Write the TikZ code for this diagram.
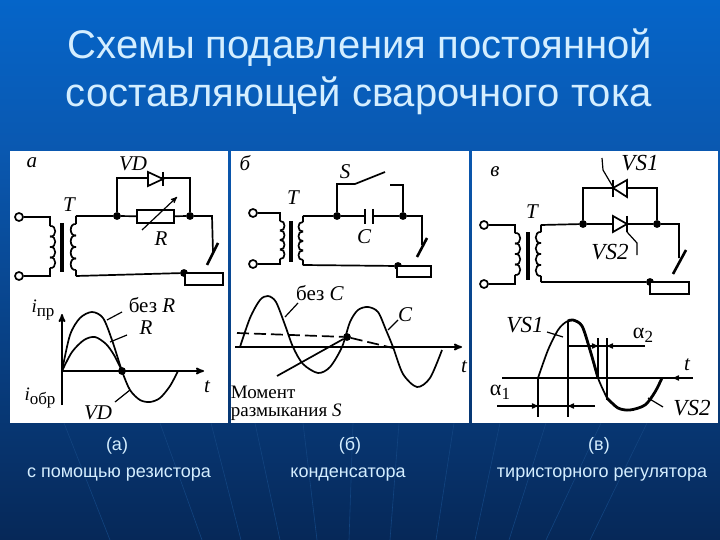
\documentclass[tikz,border=0pt]{standalone}
\usepackage{fontspec}
\setmainfont{Liberation Sans}
\newfontfamily\seriffont{Liberation Serif}
\usetikzlibrary{arrows}

\definecolor{skytop}{HTML}{0565C9}
\definecolor{skymid}{HTML}{0A58B0}
\definecolor{skylow}{HTML}{062858}
\definecolor{raycol}{HTML}{124480}
\definecolor{headcol}{HTML}{D4EEFF}

% one winding of four turns: x, top y, turn height, bulge
\newcommand{\coil}[4]{\foreach \k in {0,1,2,3}{\draw (#1,#2+\k*#3) .. controls +(#4,-1) and +(#4,1) .. (#1,#2+\k*#3+#3);}}
\newcommand{\sublab}[1]{\raisebox{-4pt}{\fontsize{17}{17}\selectfont #1}}

\begin{document}
\begin{tikzpicture}[x=1pt,y=-1pt,>=stealth',line width=1.7pt]
  \tikzstyle{term}=[circle,draw,fill=white,minimum size=8pt,inner sep=0pt]
  \tikzstyle{junc}=[circle,draw,fill=black,minimum size=6pt,inner sep=0pt]
  \tikzstyle{unit}=[rectangle,draw,fill=white,inner sep=0pt]
  \tikzstyle{lab}=[inner sep=0pt,font=\seriffont\itshape\fontsize{21}{21}\selectfont]
  \tikzstyle{labvs}=[inner sep=0pt,font=\seriffont\itshape\fontsize{23}{23}\selectfont]
  \tikzstyle{note}=[inner sep=0pt,font=\seriffont\fontsize{19}{19}\selectfont]
  \tikzstyle{thin}=[line width=1.2pt]
  \tikzstyle{head}=[text=headcol,inner sep=0pt,font=\fontsize{40}{40}\selectfont]
  \tikzstyle{capt}=[text=headcol,inner sep=0pt,font=\fontsize{18}{18}\selectfont]

  \useasboundingbox (0,0) rectangle (720,540);
  \shade[top color=skytop,bottom color=skymid,draw=none] (0,0) rectangle (720,150);
  \shade[top color=skymid,bottom color=skylow,draw=none] (0,150) rectangle (720,540);
  \foreach \xa/\xb in {64/110,160/202,211/241,255/280,303/317,353/349,399/390,454/436,500/475,546/509,601/546,647/590}
    \draw[raycol,line width=0.6pt] (\xa,423) -- (\xb,540);

  \fill[white] (10,151) rectangle (228,423);
  \fill[white] (231,151) rectangle (469,423);
  \fill[white] (472,151) rectangle (718,423);

  \node[head,anchor=base west] (title1) at (67,59) {Схемы подавления постоянной};
  \node[head,anchor=base west] (title2) at (65,107) {составляющей сварочного тока};

  \node[capt] (capA)  at (117,446) {(а)};
  \node[capt] (capA2) at (119,475) {с помощью резистора};
  \node[capt] (capB)  at (350,446) {(б)};
  \node[capt] (capB2) at (348,475) {конденсатора};
  \node[capt] (capC)  at (599,446) {(в)};
  \node[capt] (capC2) at (602,475) {тиристорного регулятора};

  % panel a, circuit
  \node[term] (a1) at (19,217) {};
  \node[term] (a2) at (19,276) {};
  \node[junc] (a3) at (117,216) {};
  \node[junc] (a4) at (190,216) {};
  \node[junc] (a5) at (184,273) {};
  \node[unit,minimum width=37pt,minimum height=13pt] (aR) at (155.5,216.5) {};
  \node[unit,minimum width=38pt,minimum height=12pt] (aload) at (204,279) {};
  \coordinate (a6) at (50,217);
  \coordinate (a7) at (50,276);
  \coordinate (a8) at (76,216);
  \coordinate (a9) at (76,276);
  \coordinate (a10) at (117,178);
  \coordinate (a11) at (190,178);
  \coordinate (a12) at (212,216);
  \coordinate (a13) at (213,252);
  \coordinate (a14) at (142,230);
  \coordinate (a15) at (177,197);
  \coil{50}{226}{10.5}{7}
  \coil{76}{224}{11.5}{-7}
  \draw[line width=3.2pt] (62,223) -- (62,272);
  \path[draw] (a1) -- (a6) -- (50,226)
              (a2) -- (a7) -- (50,268)
              (a8) -- (76,224)
              (a9) -- (76,270)
              (a8) -- (a3)
              (a3) -- (aR)
              (aR) -- (a4)
              (a3) -- (a10) -- (a11) -- (a4)
              (a4) -- (a12) -- (a13)
              (a9) -- (a5);
  \draw[->,thin] (a14) -- (a15);
  \draw[fill=white] (148,172) -- (163,179) -- (148,186) -- cycle;
  \draw (163,172) -- (163,186);
  \draw[line width=2.6pt] (218,243) -- (207,265);
  \node[lab] (aname) at (32,163) {а};
  \node[lab] (aVD)   at (133,164) {VD};
  \node[lab] (aT)    at (69,205) {T};
  \node[lab] (aRl)   at (161,239) {R};

  % panel a, curves
  \coordinate (a20) at (62,405);
  \coordinate (a21) at (62,314);
  \coordinate (a22) at (62,371);
  \coordinate (a23) at (204,371);
  \node[junc] (a24) at (122,371) {};
  \draw[->] (a20) -- (a21);
  \draw[->] (a22) -- (a23);
  \draw plot[smooth] coordinates {(62,371) (70,335) (80,318) (92,312) (103,318) (112,340) (122,371) (130,390) (140,400) (150,402) (160,398) (170,386) (178,371)};
  \draw plot[smooth] coordinates {(62,371) (72,352) (84,340) (95,337) (106,344) (114,355) (122,371)};
  \node[note] (aip) at (43,310) {\textit{i}\sublab{пр}};
  \node[note] (aio) at (40,398) {\textit{i}\sublab{обр}};
  \node[note,font=\seriffont\fontsize{21}{21}\selectfont] (anoR) at (152,305) {без \textit{R}};
  \node[lab]  (aRc)  at (146,328) {R};
  \node[lab]  (at)   at (207,387) {t};
  \node[lab]  (aVDc) at (98,413) {VD};
  \coordinate (a25) at (107,320);
  \coordinate (a26) at (122,312);
  \coordinate (a27) at (110,342);
  \coordinate (a28) at (127,335);
  \coordinate (a29) at (115,402);
  \coordinate (a30) at (130,390);
  \path[draw,thin] (a25) -- (a26) (a27) -- (a28) (a29) -- (a30);

  % panel b, circuit
  \node[term] (b1) at (253,213) {};
  \node[term] (b2) at (253,264) {};
  \node[junc] (b3) at (337,216) {};
  \node[junc] (b4) at (403,216) {};
  \node[junc] (b5) at (398,266) {};
  \node[unit,minimum width=34pt,minimum height=11pt] (bload) at (414,271.5) {};
  \coordinate (b6) at (280,213);
  \coordinate (b7) at (280,264);
  \coordinate (b8) at (303,216);
  \coordinate (b9) at (303,265);
  \coordinate (b10) at (337,184);
  \coordinate (b11) at (355,184);
  \coordinate (b12) at (385,172);
  \coordinate (b13) at (390,185);
  \coordinate (b14) at (403,185);
  \coordinate (b15) at (365,216);
  \coordinate (b16) at (373,216);
  \coordinate (b17) at (422,216);
  \coordinate (b18) at (422,245);
  \coil{280}{221}{9.5}{6}
  \coil{303}{222}{9.5}{-6}
  \draw[line width=3.2pt] (291,221) -- (291,262);
  \path[draw] (b1) -- (b6) -- (280,221)
              (b2) -- (b7) -- (280,259)
              (b8) -- (303,222)
              (b9) -- (303,260)
              (b8) -- (b3)
              (b3) -- (b15)
              (b16) -- (b4)
              (b3) -- (b10) -- (b11) -- (b12)
              (b13) -- (b14) -- (b4)
              (b4) -- (b17) -- (b18)
              (b9) -- (b5);
  \draw (365,209) -- (365,224);
  \draw (373,209) -- (373,224);
  \draw[line width=2.6pt] (427,238) -- (417,257);
  \node[lab] (bname) at (245,163) {б};
  \node[lab] (bS)    at (345,172) {S};
  \node[lab] (bT)    at (293,198) {T};
  \node[lab] (bCl)   at (364,237) {C};

  % panel b, curves
  \coordinate (b20) at (235,347);
  \coordinate (b21) at (462,347);
  \coordinate (b22) at (237,333);
  \node[junc] (b23) at (347,337) {};
  \coordinate (b24) at (393,348);
  \coordinate (b25) at (277,376);
  \draw[->] (b20) -- (b21);
  \draw[dashed,dash pattern=on 12pt off 5pt] (b22) -- (b23) -- (b24);
  \draw (b25) -- (b23);
  \draw plot[smooth] coordinates {(240,347) (250,318) (260,300) (268,296) (276,302) (285,325) (293,347) (303,364) (318,373) (330,367) (342,347) (350,322) (358,310) (368,307) (378,312) (386,330) (393,347) (403,374) (417,387) (430,378) (442,350)};
  \node[note,font=\seriffont\fontsize{21}{21}\selectfont] (bnoC) at (320,293) {без \textit{C}};
  \node[lab]  (bCc)  at (405,315) {C};
  \node[lab]  (bt)   at (464,367) {t};
  \node[note,anchor=west] (bmom) at (230,392) {Момент};
  \node[note,anchor=west] (bcut) at (230,412) {размыкания \textit{S}};
  \coordinate (b26) at (285,317);
  \coordinate (b27) at (298,303);
  \coordinate (b28) at (388,330);
  \coordinate (b29) at (398,320);
  \path[draw,thin] (b26) -- (b27) (b28) -- (b29);

  % panel c, circuit
  \node[term] (c1) at (484,225) {};
  \node[term] (c2) at (484,284) {};
  \node[junc] (c3) at (583,224) {};
  \node[junc] (c4) at (657,224) {};
  \node[junc] (c5) at (650,282) {};
  \node[unit,minimum width=39pt,minimum height=12pt] (cload) at (669.5,288) {};
  \coordinate (c6) at (515,225);
  \coordinate (c7) at (515,284);
  \coordinate (c8) at (541,225);
  \coordinate (c9) at (541,282);
  \coordinate (c10) at (583,188);
  \coordinate (c11) at (657,188);
  \coordinate (c12) at (679,224);
  \coordinate (c13) at (679,258);
  \coil{515}{233}{10.5}{7}
  \coil{541}{232}{11}{-7}
  \draw[line width=3.2pt] (528,232) -- (528,280);
  \path[draw] (c1) -- (c6) -- (515,233)
              (c2) -- (c7) -- (515,275)
              (c8) -- (541,232)
              (c9) -- (541,276)
              (c8) -- (c3)
              (c3) -- (c4)
              (c3) -- (c10) -- (c11) -- (c4)
              (c4) -- (c12) -- (c13)
              (c9) -- (c5);
  \draw[fill=white] (627,180) -- (613,188) -- (627,197) -- cycle;
  \draw (613,180) -- (613,197);
  \draw[thin] (613,187) -- (603,170) -- (602,158);
  \draw[fill=white] (613,216) -- (627,224) -- (613,232) -- cycle;
  \draw (627,216) -- (627,232);
  \draw[thin] (627,232) -- (637,243) -- (637,255);
  \draw[line width=2.6pt] (686,250) -- (673,274);
  \node[lab]   (cname) at (495,172) {в};
  \node[lab]   (cT)    at (532,212) {T};
  \node[labvs] (cVSa)  at (640,163) {VS1};
  \node[labvs] (cVSb)  at (610,252) {VS2};

  % panel c, curves
  \coordinate (c20) at (502,378);
  \coordinate (c21) at (693,378);
  \draw (c20) -- (c21);
  \draw[<-,thin] (673,378) -- (693,378);
  \draw plot[smooth] coordinates {(538,378) (548,350) (558,330) (566,322) (573,320) (582,326) (590,350) (598,378) (607,398)};
  \draw[line width=2.8pt] plot[smooth] coordinates {(568,321) (573,320) (582,326) (590,350) (598,378)};
  \draw[line width=2.8pt] plot[smooth] coordinates {(607,398) (618,408) (630,410) (645,405) (655,392) (662,378)};
  \draw[line width=2.8pt] (568,322) -- (568,378);
  \draw[line width=2.8pt] (607,378) -- (607,400);
  \draw[thin] (568,378) -- (568,417);
  \draw[thin] (538,378) -- (538,417);
  \draw[thin] (598,338) -- (598,378);
  \draw[thin] (607,338) -- (607,378);
  \draw[thin] (568,346) -- (645,346);
  \draw[thin] (497,406) -- (595,406);
  \draw[->,thin] (645,346) -- (607,346);
  \draw[->,thin] (568,346) -- (598,346);
  \draw[->,thin] (497,406) -- (538,406);
  \draw[->,thin] (595,406) -- (568,406);
  \coordinate (c22) at (547,332);
  \coordinate (c23) at (563,337);
  \coordinate (c24) at (648,398);
  \coordinate (c25) at (663,407);
  \path[draw,thin] (c22) -- (c23) (c24) -- (c25);
  \node[labvs] (cVSc) at (525,325) {VS1};
  \node[note,font=\seriffont\fontsize{22}{22}\selectfont] (ca2)  at (643,335) {α\sublab{2}};
  \node[note,font=\seriffont\fontsize{22}{22}\selectfont] (ca1)  at (500,392) {α\sublab{1}};
  \node[lab]   (ct)   at (687,365) {t};
  \node[labvs] (cVSd) at (692,408) {VS2};
\end{tikzpicture}
\end{document}
